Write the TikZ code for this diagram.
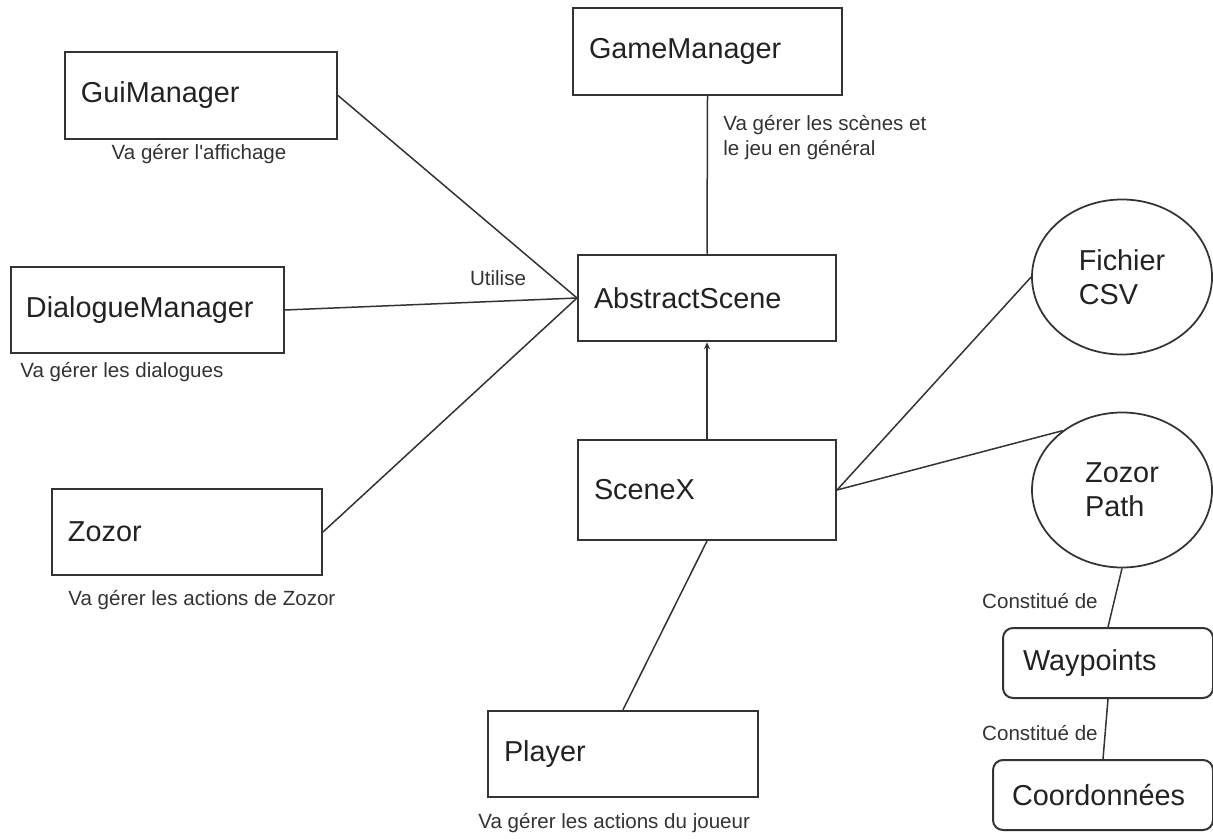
\documentclass[tikz,border=0pt]{standalone}
\usepackage{fontspec}
\setmainfont{Liberation Sans}
\usepackage{xcolor}
\usepackage{tikz}
\usetikzlibrary{positioning,arrows.meta,shapes.geometric}
\definecolor{ink}{HTML}{333333}
\definecolor{txt}{HTML}{222222}
\newcommand{\boxfont}{\fontsize{16.4pt}{19.3pt}\selectfont}
\newcommand{\notefont}{\fontsize{11.7pt}{14.2pt}\selectfont}
\tikzset{
  box/.style  ={rectangle, draw=ink, line width=0.4mm, minimum height=17.3mm, inner xsep=3.2mm, align=left, text=txt, font=\boxfont},
  rbox/.style ={box, rounded corners=2mm, minimum height=14mm, inner xsep=4mm},
  oval/.style ={ellipse, draw=ink, line width=0.35mm, minimum width=36mm, minimum height=31mm, inner sep=0pt, align=left, text=txt, font=\boxfont},
  note/.style ={inner sep=0pt, align=left, text=ink, font=\notefont},
  link/.style ={draw=ink, line width=0.3mm},
  inherit/.style={draw=ink, line width=0.3mm, -{Stealth[length=1.4mm, width=1.2mm]}},
}
\begin{document}
\begin{tikzpicture}[x=0.2mm, y=-0.2mm]
        \useasboundingbox (0,0) rectangle (1213,840);
        % classes
        \node[box, text width=47.4mm] (game)     at (707.5,51.5) {GameManager};
        \node[box, text width=48mm]   (gui)      at (201,95.5)   {GuiManager};
        \node[box, text width=45.2mm] (abstract) at (707,298)    {AbstractScene};
        \node[box, text width=48.6mm, inner xsep=3mm] (dialogue) at (147.5,310) {DialogueManager};
        \node[box, text width=45.2mm, minimum height=20mm] (scenex) at (707,490) {SceneX};
        \node[box, text width=47.6mm] (zozor)    at (187,532)    {Zozor};
        \node[box, text width=47.6mm] (player)   at (623,754)    {Player};
        % donnees
        \node[oval] (csv)  at (1122,277) {Fichier\\CSV};
        \node[oval] (path) at (1122,490) {Zozor\\Path};
        \node[rbox, text width=34mm]   (waypoints) at (1108,663) {Waypoints};
        \node[rbox, text width=36.4mm, inner xsep=3.8mm] (coord) at (1103,795) {Coordonnées};
        % liens
        \draw[link] (gui.east) -- (abstract.west);
        \draw[link] (dialogue.east) -- (abstract.west);
        \draw[link] (zozor.east) -- (abstract.west);
        \draw[link] (game.south) -- (abstract.north);
        \draw[inherit] (scenex.north) -- (abstract.south);
        \draw[link] (scenex.east) -- (csv.west);
        \draw[link] (scenex.east) -- (path.135);
        \draw[link] (scenex.south) -- (player.north);
        \draw[link] (path.south) -- (waypoints.north);
        \draw[link] (waypoints.south) -- (coord.north);
        % commentaires
        \node[note] (notegui)    at (199,154) {Va gérer l\textquotesingle affichage};
        \node[note, anchor=west] (notegame) at (723,137.5) {Va gérer les scènes et\\le jeu en général};
        \node[note] (noteuse)    at (498,278) {Utilise};
        \node[note, anchor=west] (notedia)    at (20,372)  {Va gérer les dialogues};
        \node[note, anchor=west] (notezozor)  at (68,600)  {Va gérer les actions de Zozor};
        \node[note, anchor=west] (noteplayer) at (478,823) {Va gérer les actions du joueur};
        \node[note, anchor=east] (notepath)   at (1098,601) {Constitué de};
        \node[note, anchor=east] (notewp)     at (1098,733) {Constitué de};
      \end{tikzpicture}
\end{document}
